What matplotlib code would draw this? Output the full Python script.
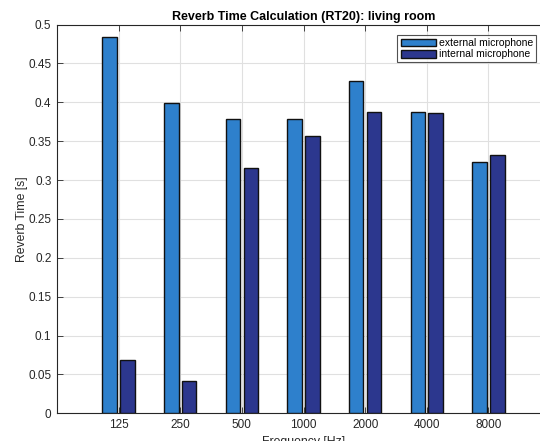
import matplotlib
matplotlib.use("Agg")
import matplotlib.pyplot as plt
import numpy as np

plt.rcParams['font.family'] = ['Liberation Sans', 'DejaVu Sans']

freq_labels = ['125', '250', '500', '1000', '2000', '4000', '8000']
external_mic = [0.484, 0.399, 0.379, 0.379, 0.427, 0.388, 0.323]
internal_mic = [0.069, 0.041, 0.315, 0.357, 0.388, 0.386, 0.332]
series_names = ['external microphone', 'internal microphone']
y_ticks = [0, 0.05, 0.1, 0.15, 0.2, 0.25, 0.3, 0.35, 0.4, 0.45, 0.5]

fig = plt.figure(figsize=(5.4, 4.41), dpi=100)
ax = fig.add_axes([0.1056, 0.0628, 0.9129, 0.8816])

x = np.arange(1, len(freq_labels) + 1)
offset = 0.145
width = 0.235
c_ext = '#2E80CC'
c_int = '#2C378E'
ax.bar(x - offset, external_mic, width, color=c_ext, edgecolor='#111111',
       linewidth=1.0, label=series_names[0], zorder=3)
ax.bar(x + offset, internal_mic, width, color=c_int, edgecolor='#111111',
       linewidth=1.0, label=series_names[1], zorder=3)

ax.set_xlim(0, 8)
ax.set_ylim(0, 0.5)
ax.set_xticks(x)
ax.set_xticklabels(freq_labels)
ax.set_yticks(y_ticks)
ax.set_yticklabels([f'{v:g}' for v in y_ticks])
ax.grid(True, color='#E0E0E0', linewidth=0.8, zorder=0)
ax.set_axisbelow(True)
ax.tick_params(direction='in', top=True, right=True, labelsize=8.5,
               length=4, width=0.6, colors='#262626', labelcolor='#262626',
               pad=4)
for s in ax.spines.values():
    s.set_linewidth(0.8)
    s.set_color('#262626')

ax.set_title('Reverb Time Calculation (RT20): living room', fontsize=9,
             fontweight='bold', pad=3)
ax.set_xlabel('Frequency [Hz]', fontsize=8.8, color='#262626', labelpad=4)
ax.set_ylabel('Reverb Time [s]', fontsize=8.8, color='#262626', labelpad=0)

leg = ax.legend(loc='upper right', bbox_to_anchor=(536 / 540, 1 - 35 / 441),
                bbox_transform=fig.transFigure, fontsize=7.5,
                frameon=True, fancybox=False, edgecolor='#262626',
                handlelength=3.4, handleheight=0.8, handletextpad=0.25,
                borderpad=0.3, labelspacing=0.1, borderaxespad=0)
leg.get_frame().set_linewidth(0.8)

fig.savefig('out.png', dpi=100)
